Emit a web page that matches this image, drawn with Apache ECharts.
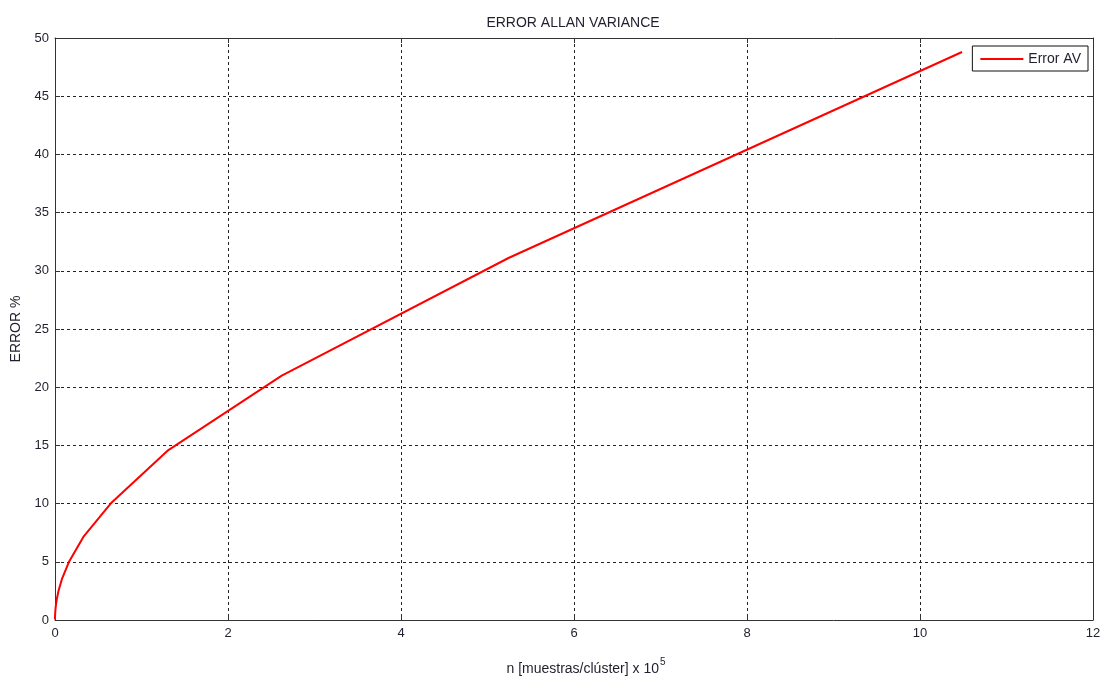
<!DOCTYPE html>
<html>
<head>
<meta charset="utf-8">
<script src="https://cdn.jsdelivr.net/npm/echarts@6/dist/echarts.min.js"></script>
<style>
  html, body { margin: 0; padding: 0; background: #fff; }
  #chart { width: 1101px; height: 677px; }
</style>
</head>
<body>
<div id="chart"></div>
<script>
// Cluster size n (x 10^5 samples per cluster), doubling each step
const clusterSize = [0.00001, 0.00002, 0.00004, 0.00008, 0.00016, 0.00032, 0.00064,
  0.00128, 0.00256, 0.00512, 0.01024, 0.02048, 0.04096, 0.08192, 0.16384, 0.32768,
  0.65536, 1.31072, 2.62144, 5.24288, 10.48576];
// Allan variance error in percent for each cluster size
const errorAV = [0.04, 0.06, 0.08, 0.11, 0.16, 0.22, 0.31, 0.44, 0.63, 0.89, 1.26,
  1.78, 2.51, 3.56, 5.03, 7.14, 10.1, 14.6, 21.0, 31.1, 48.8];
const xTicks = [0, 2, 4, 6, 8, 10, 12];
const yTicks = [0, 5, 10, 15, 20, 25, 30, 35, 40, 45, 50];

const textColor = '#1f1f2e';
const axisColor = '#333';
const font = 'Liberation Sans, Arial, sans-serif';

const chart = echarts.init(document.getElementById('chart'), null, { renderer: 'canvas' });

const gridLine = { show: true, lineStyle: { color: '#222', type: [3, 3], width: 1 } };
const tick = { show: true, inside: true, length: 5, lineStyle: { color: axisColor } };
const line = { show: true, onZero: false, lineStyle: { color: axisColor, width: 1 } };

chart.setOption({
  animation: false,
  backgroundColor: '#fff',
  title: {
    text: 'ERROR ALLAN VARIANCE',
    left: 568,
    textAlign: 'center',
    top: 11,
    textStyle: { fontFamily: font, fontSize: 14, fontWeight: 'normal', color: textColor }
  },
  legend: {
    data: ['Error AV'],
    right: 13,
    top: 46,
    orient: 'vertical',
    backgroundColor: '#fff',
    borderColor: '#111',
    borderWidth: 1,
    borderRadius: 0,
    padding: [6, 7, 5, 8],
    icon: 'rect',
    itemWidth: 43,
    itemHeight: 2,
    itemGap: 4,
    textStyle: { fontFamily: font, fontSize: 14, color: textColor }
  },
  // Fixed plot box; labels and names sit outside it
  grid: { left: 55, right: 8, top: 38, bottom: 57, containLabel: false, outerBoundsMode: 'none' },
  xAxis: [{
    type: 'value',
    min: xTicks[0],
    max: xTicks[xTicks.length - 1],
    interval: 2,
    axisLine: line,
    axisTick: tick,
    splitLine: gridLine,
    axisLabel: { margin: 7, fontFamily: font, fontSize: 13, color: textColor },
    name: '{a|n [muestras/clúster] x 10}{sup|5}',
    nameLocation: 'middle',
    nameGap: 37,
    nameTextStyle: {
      fontFamily: font,
      padding: [0, 0, 0, 24],
      rich: {
        a: { fontFamily: font, fontSize: 14, color: textColor, verticalAlign: 'bottom' },
        sup: { fontFamily: font, fontSize: 10, color: textColor, verticalAlign: 'top', padding: [0, 0, 9, 1] }
      }
    }
  }, {
    type: 'value',
    position: 'top',
    min: xTicks[0],
    max: xTicks[xTicks.length - 1],
    interval: 2,
    axisLine: line,
    axisTick: tick,
    splitLine: { show: false },
    axisLabel: { show: false }
  }],
  yAxis: [{
    type: 'value',
    min: yTicks[0],
    max: yTicks[yTicks.length - 1],
    interval: 5,
    axisLine: line,
    axisTick: tick,
    splitLine: gridLine,
    axisLabel: { margin: 6, fontFamily: font, fontSize: 13, color: textColor },
    name: 'ERROR %',
    nameLocation: 'middle',
    nameRotate: 90,
    nameGap: 24,
    nameTextStyle: { fontFamily: font, fontSize: 14, color: textColor }
  }, {
    type: 'value',
    position: 'right',
    min: yTicks[0],
    max: yTicks[yTicks.length - 1],
    interval: 5,
    axisLine: line,
    axisTick: tick,
    splitLine: { show: false },
    axisLabel: { show: false }
  }],
  series: [{
    name: 'Error AV',
    type: 'line',
    xAxisIndex: 0,
    yAxisIndex: 0,
    data: clusterSize.map((x, i) => [x, errorAV[i]]),
    showSymbol: false,
    symbol: 'none',
    lineStyle: { color: '#ff0000', width: 2 },
    itemStyle: { color: '#ff0000' }
  }]
});
</script>
</body>
</html>
